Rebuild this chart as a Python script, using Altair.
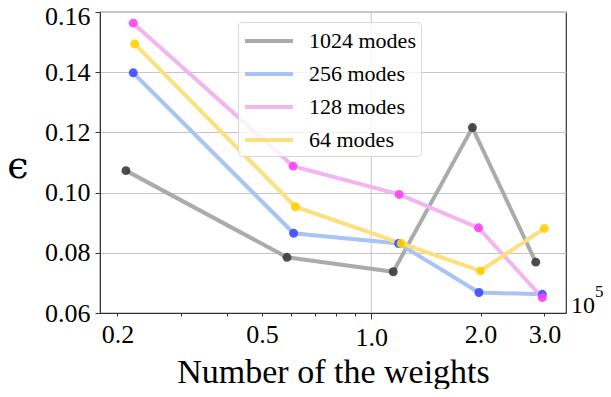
import altair as alt
import pandas as pd

series_names = ["1024 modes", "256 modes", "128 modes", "64 modes"]
x_1024 = [0.211, 0.586, 1.15, 1.90, 2.84]
y_1024 = [0.1073, 0.0785, 0.0737, 0.1216, 0.0769]
x_256 = [0.221, 0.611, 1.19, 1.98, 2.96]
y_256 = [0.1398, 0.0865, 0.0831, 0.0668, 0.0662]
x_128 = [0.221, 0.609, 1.194, 1.975, 2.96]
y_128 = [0.1563, 0.1088, 0.0994, 0.0883, 0.0651]
x_64 = [0.223, 0.618, 1.21, 2.0, 3.0]
y_64 = [0.1494, 0.0953, 0.0831, 0.0740, 0.0881]

line_colors = ["#ababab", "#a9c3f2", "#f3b5f1", "#fde07c"]
point_colors = ["#3c3c3c", "#3b4cff", "#ff40f2", "#ffd200"]

x_tick_values = [0.2, 0.3, 0.4, 0.5, 0.6, 0.7, 0.8, 0.9, 1, 2, 3]
x_labelled = [0.2, 0.5, 1, 2, 3]
y_tick_values = [0.06, 0.08, 0.10, 0.12, 0.14, 0.16]

rows = []
for name, xs, ys in zip(series_names, [x_1024, x_256, x_128, x_64], [y_1024, y_256, y_128, y_64]):
    for i, (xv, yv) in enumerate(zip(xs, ys)):
        rows.append({"series": name, "x": xv, "y": yv, "order": i})
df = pd.DataFrame(rows)

SERIF = "Liberation Serif"

xscale = alt.Scale(type="log", domain=[0.179, 3.44], nice=False)
yscale = alt.Scale(domain=[0.06, 0.16], nice=False, zero=False)

label_expr = "indexof(" + str(x_labelled) + ", datum.value) >= 0 ? format(datum.value, '.1f') : ''"

X = alt.X("x:Q", scale=xscale, title="Number of the weights",
          axis=alt.Axis(values=x_tick_values, labelExpr=label_expr, grid=False,
                        tickSize={"condition": {"test": "datum.value == 1", "value": 6}, "value": 3}))
Y = alt.Y("y:Q", scale=yscale, title=None,
          axis=alt.Axis(values=y_tick_values, format=".2f", grid=True,
                        labelOffset={"condition": {"test": "datum.value >= 0.159", "value": 4}, "value": 0}))

base = alt.Chart(df).encode(x=X, y=Y)

vgrid = alt.Chart(pd.DataFrame({"x": [1.0], "y": [0.06], "y2": [0.16]})).mark_rule(
    color="#c4c4c4", strokeWidth=1
).encode(x=X, y=Y, y2="y2:Q")

lines = base.mark_line(strokeWidth=4).encode(
    color=alt.Color(
        "series:N",
        scale=alt.Scale(domain=series_names, range=line_colors),
        legend=alt.Legend(
            title=None, orient="none", legendX=138, legendY=10,
            symbolType="M-2,0H2", symbolSize=576, symbolStrokeWidth=4, symbolOffset=12,
            labelFont=SERIF, labelFontSize=22, labelColor="black",
            fillColor="rgba(255,255,255,0.8)", strokeColor="#d8d8d8",
            cornerRadius=4, padding=5, rowPadding=8, labelOffset=26,
        ),
    ),
    detail="series:N",
    order="order:Q",
)

points = base.mark_circle(size=80, opacity=0.9).encode(
    color=alt.Color("series:N", scale=alt.Scale(domain=series_names, range=point_colors), legend=None),
)

y_title = alt.Chart(pd.DataFrame({"t": ["ϵ"]})).mark_text(
    font="DejaVu Serif", fontSize=38, align="center", baseline="middle", color="black"
).encode(x=alt.value(-82), y=alt.value(155), text="t:N")

offset_text = alt.Chart(pd.DataFrame({"t": ["10"]})).mark_text(
    font=SERIF, fontSize=24, align="left", baseline="alphabetic", color="black"
).encode(x=alt.value(471), y=alt.value(301), text="t:N")
offset_sup = alt.Chart(pd.DataFrame({"t": ["5"]})).mark_text(
    font=SERIF, fontSize=17, align="left", baseline="alphabetic", color="black"
).encode(x=alt.value(495), y=alt.value(285), text="t:N")

chart = alt.layer(vgrid, lines, points, y_title, offset_text, offset_sup).resolve_scale(
    color="independent"
).properties(
    width=466, height=301,
    autosize=alt.AutoSizeParams(type="none"),
    padding={"left": 92, "top": 4, "right": 37, "bottom": 76},
).configure_view(
    stroke="#333", strokeWidth=1.2
).configure_axis(
    labelFont=SERIF, labelFontSize=26, labelColor="black",
    titleFont=SERIF, titleFontWeight="normal", titleColor="black",
    tickColor="#333", domainColor="#333", gridColor="#c4c4c4",
    labelOverlap=False, labelFlush=False,
).configure_axisX(
    labelBaseline="alphabetic", labelPadding=26,
    titleFontSize=34, titleBaseline="alphabetic", titleY=69,
).configure_axisY(
    labelPadding=5, tickSize=5,
)

chart.save("out.html", embed_options={"renderer": "svg", "actions": False})
